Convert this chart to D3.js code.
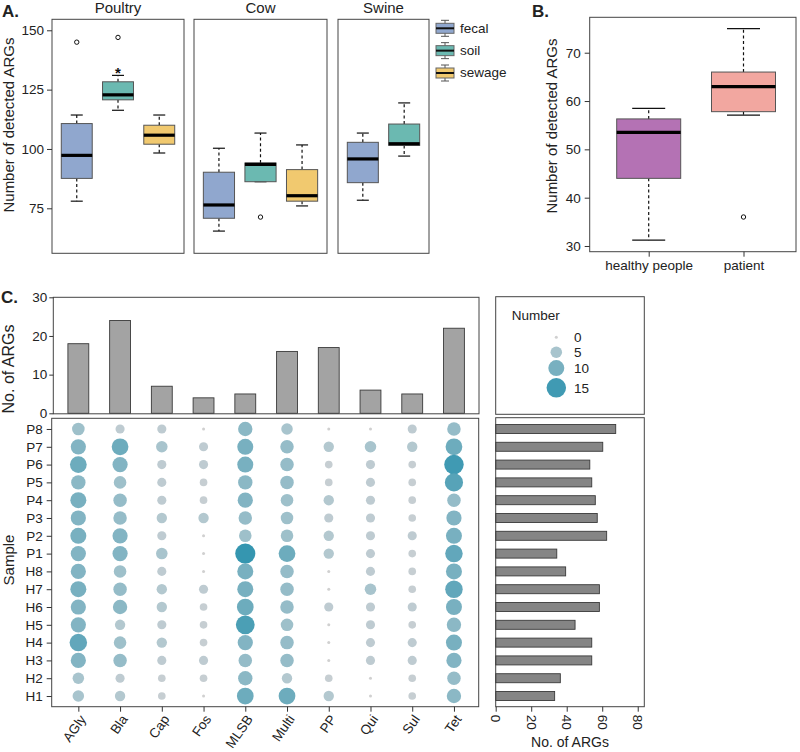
<!DOCTYPE html>
<html><head><meta charset="utf-8">
<script src="https://cdn.jsdelivr.net/npm/d3@7"></script>
<style>
body{margin:0;background:#fff;}
svg{display:block;font-family:"Liberation Sans",Arial,sans-serif;}
</style></head><body>
<svg id="chart" width="800" height="752"></svg>
<script>
// ---------------- DATA ----------------
// Panel A
const aFacets = ["Poultry", "Cow", "Swine"];
const aSources = ["fecal", "soil", "sewage"];
const aFacetSources = [["fecal", "soil", "sewage"], ["fecal", "soil", "sewage"], ["fecal", "soil"]];
// box stats: [lower whisker, Q1, median, Q3, upper whisker]
const poultryStats = [[78, 87.6, 97.3, 110.7, 114.3], [116.3, 120.7, 122.8, 128.3, 131], [98.3, 102, 105.8, 110, 114.3]];
const cowStats = [[65.4, 70.8, 76.4, 90.2, 100.3], [86.2, 86.2, 93.5, 94.1, 106.7], [76, 78, 80.3, 91.3, 101.7]];
const swineStats = [[78.4, 85.8, 95.8, 102.8, 106.7], [97, 101.5, 102.2, 110.5, 119.4]];
const poultryOutliers = [[145], [147], []];
const cowOutliers = [[], [71.3], []];
const swineOutliers = [[], []];
const poultryStars = [[], [134], []];
const aTicks = [75, 100, 125, 150];

// Panel B
const bGroups = ["healthy people", "patient"];
const bStats = [[31.2, 44, 53.5, 56.3, 58.5], [57.1, 57.8, 63, 66, 75]];
const bOutliers = [[], [36]];
const bTicks = [30, 40, 50, 60, 70];

// Panel C
const classes = ["AGly", "Bla", "Cap", "Fos", "MLSB", "Multi", "PP", "Qui", "Sul", "Tet"];
const classCounts = [18, 24, 7, 4, 5, 16, 17, 6, 5, 22];
const samples = ["P8", "P7", "P6", "P5", "P4", "P3", "P2", "P1", "H8", "H7", "H6", "H5", "H4", "H3", "H2", "H1"];
const sampleTotals = [67.6, 60.3, 53, 54.1, 56.1, 57.2, 62.5, 34.4, 39.4, 58.4, 58.4, 44.7, 54.1, 54.1, 36.4, 33.2];
const dotMatrix = [
  [6, 3, 3, 0, 8, 5, 0, 0, 3, 7],
  [9, 11, 5, 3, 10, 7, 4, 5, 4, 11],
  [11, 9, 3, 3, 10, 7, 2, 3, 2, 15],
  [8, 6, 3, 2, 8, 7, 2, 3, 2, 13],
  [10, 7, 3, 2, 9, 6, 4, 3, 2, 7],
  [9, 7, 4, 4, 7, 6, 3, 3, 2, 9],
  [10, 9, 3, 0, 6, 6, 4, 3, 3, 10],
  [9, 9, 5, 0, 16, 11, 4, 3, 2, 12],
  [9, 6, 3, 0, 10, 7, 0, 3, 2, 10],
  [10, 7, 4, 3, 10, 7, 0, 5, 2, 12],
  [9, 8, 4, 2, 11, 7, 3, 3, 3, 10],
  [9, 4, 3, 2, 14, 6, 0, 3, 2, 8],
  [12, 6, 4, 2, 9, 7, 0, 3, 3, 10],
  [9, 7, 3, 3, 7, 7, 0, 3, 3, 9],
  [5, 3, 2, 2, 8, 4, 2, 0, 2, 7],
  [5, 4, 2, 0, 11, 11, 4, 0, 2, 8]
];
const barTicks = [0, 10, 20, 30];
const totalTicks = [0, 20, 40, 60, 80];
const sizeLegendVals = [0, 5, 10, 15];

// ---------------- STYLE ----------------
const TXT = "#222";
const FRAME = "#444";
const sourceColor = d3.scaleOrdinal().domain(aSources).range(["#90A7CE", "#6BB9B1", "#F1C96F"]);
const groupColor = d3.scaleOrdinal().domain(bGroups).range(["#B472B4", "#F2A7A0"]);

const svg = d3.select("#chart");

function frame(x0, y0, x1, y1) {
  svg.append("rect").attr("x", x0).attr("y", y0).attr("width", x1 - x0).attr("height", y1 - y0)
    .attr("fill", "none").attr("stroke", FRAME).attr("stroke-width", 1);
}
function text(x, y, s, opts = {}) {
  const t = svg.append("text").attr("x", x).attr("y", y).text(s)
    .attr("fill", TXT).attr("font-size", opts.size || 13.5)
    .attr("text-anchor", opts.anchor || "start");
  if (opts.bold) t.attr("font-weight", "bold");
  if (opts.rot) t.attr("transform", `rotate(${opts.rot},${x},${y})`);
  if (opts.dy) t.attr("dy", opts.dy);
  return t;
}
function styleAxis(g) {
  g.select(".domain").remove();
  g.selectAll(".tick line").attr("stroke", "#333");
  g.selectAll(".tick text").attr("fill", TXT).attr("font-size", 13.5)
    .attr("font-family", '"Liberation Sans",Arial,sans-serif');
}
function drawBox(g, cx, w, capW, s, y, fill) {
  const dash = "3,2.6";
  g.append("line").attr("x1", cx).attr("x2", cx).attr("y1", y(s[3])).attr("y2", y(s[4]))
    .attr("stroke", "#111").attr("stroke-width", 1.2).attr("stroke-dasharray", dash);
  g.append("line").attr("x1", cx).attr("x2", cx).attr("y1", y(s[1])).attr("y2", y(s[0]))
    .attr("stroke", "#111").attr("stroke-width", 1.2).attr("stroke-dasharray", dash);
  [s[0], s[4]].forEach(v => g.append("line").attr("x1", cx - capW / 2).attr("x2", cx + capW / 2)
    .attr("y1", y(v)).attr("y2", y(v)).attr("stroke", "#111").attr("stroke-width", 1.2));
  g.append("rect").attr("x", cx - w / 2).attr("width", w).attr("y", y(s[3])).attr("height", y(s[1]) - y(s[3]))
    .attr("fill", fill).attr("stroke", "#555").attr("stroke-width", 1);
  g.append("line").attr("x1", cx - w / 2).attr("x2", cx + w / 2).attr("y1", y(s[2])).attr("y2", y(s[2]))
    .attr("stroke", "#000").attr("stroke-width", 3.2);
}
function drawOutliers(g, cx, vals, y) {
  vals.forEach(v => g.append("circle").attr("cx", cx).attr("cy", y(v)).attr("r", 2.2)
    .attr("fill", "none").attr("stroke", "#111").attr("stroke-width", 1));
}

// ---------------- PANEL A ----------------
const yA = d3.scaleLinear().domain([56.04, 154.63]).range([253.3, 19.3]);
const facetBounds = [[52, 184], [194, 327], [338, 429]];
const aStats = [poultryStats, cowStats, swineStats];
const aOut = [poultryOutliers, cowOutliers, swineOutliers];
const aStars = [poultryStars, [[], [], []], [[], []]];
const gA = svg.append("g");
aFacets.forEach((f, i) => {
  const [x0, x1] = facetBounds[i];
  const x = d3.scalePoint().domain(aFacetSources[i]).range([x0, x1]).padding(0.6);
  frame(x0, 19.3, x1, 253.3);
  text((x0 + x1) / 2, 13, f, { size: 15, anchor: "middle" });
  aFacetSources[i].forEach((src, j) => {
    const cx = x(src);
    drawBox(gA, cx, x.step() * 0.75, 12, aStats[i][j], yA, sourceColor(src));
    drawOutliers(gA, cx, aOut[i][j], yA);
    aStars[i][j].forEach(v => gA.append("text").attr("x", cx).attr("y", yA(v)).attr("dy", "0.62em")
      .attr("text-anchor", "middle").attr("font-size", 15).attr("font-weight", "bold").attr("fill", "#111").text("*"));
  });
});
svg.append("g").attr("transform", "translate(52,0)")
  .call(d3.axisLeft(yA).tickValues(aTicks).tickSize(5).tickPadding(3)).call(styleAxis);
text(13.5, 125, "Number of detected ARGs", { size: 15, anchor: "middle", rot: -90 });
text(2, 16.5, "A.", { size: 17, bold: true });

// legend A
const legY = d3.scalePoint().domain(aSources).range([28.3, 73]);
aSources.forEach(src => {
  const cy = legY(src), cx = 445;
  const g = svg.append("g");
  g.append("line").attr("x1", cx).attr("x2", cx).attr("y1", cy - 8).attr("y2", cy + 8).attr("stroke", "#555");
  [cy - 8, cy + 8].forEach(v => g.append("line").attr("x1", cx - 4).attr("x2", cx + 4).attr("y1", v).attr("y2", v).attr("stroke", "#555"));
  g.append("rect").attr("x", 436).attr("width", 18).attr("y", cy - 5).attr("height", 10)
    .attr("fill", sourceColor(src)).attr("stroke", "#666");
  g.append("line").attr("x1", 436).attr("x2", 454).attr("y1", cy).attr("y2", cy).attr("stroke", "#111").attr("stroke-width", 2);
  text(460, cy, src, { size: 13.5, dy: "0.32em" });
});

// ---------------- PANEL B ----------------
const yB = d3.scaleLinear().domain([28.82, 77.33]).range([251.7, 17.3]);
const xB = d3.scalePoint().domain(bGroups).range([648.7, 743.5]);
frame(589.7, 17.3, 796, 251.7);
const gB = svg.append("g");
bGroups.forEach((grp, i) => {
  drawBox(gB, xB(grp), 64, 33, bStats[i], yB, groupColor(grp));
  drawOutliers(gB, xB(grp), bOutliers[i], yB);
});
svg.append("g").attr("transform", "translate(589.7,0)")
  .call(d3.axisLeft(yB).tickValues(bTicks).tickSize(5).tickPadding(4)).call(styleAxis);
svg.append("g").attr("transform", "translate(0,251.7)")
  .call(d3.axisBottom(xB).tickSize(5).tickPadding(4)).call(styleAxis);
text(557, 126, "Number of detected ARGs", { size: 15, anchor: "middle", rot: -90 });
text(532, 16.5, "B.", { size: 17, bold: true });

// ---------------- PANEL C ----------------
const xC = d3.scalePoint().domain(classes).range([53.3, 479]).padding(0.6);
const yBar = d3.scaleLinear().domain([0, 30]).range([413.3, 297.3]);
svg.append("g").selectAll("rect").data(classes).join("rect")
  .attr("x", d => xC(d) - xC.step() * 0.25).attr("width", xC.step() * 0.5)
  .attr("y", (d, i) => yBar(classCounts[i])).attr("height", (d, i) => yBar(0) - yBar(classCounts[i]))
  .attr("fill", "#A3A3A3").attr("stroke", "#3a3a3a").attr("stroke-width", 0.9);
frame(53.3, 297.3, 479, 413.8);
svg.append("g").attr("transform", "translate(53.3,0)")
  .call(d3.axisLeft(yBar).tickValues(barTicks).tickSize(4).tickPadding(2)).call(styleAxis);
text(13.5, 369, "No. of ARGs", { size: 16, anchor: "middle", rot: -90 });
text(1, 303, "C.", { size: 17, bold: true });

// dot panel
const yDot = d3.scalePoint().domain(samples).range([418.3, 706.7]).padding(0.6);
const areaScale = d3.scaleLinear().domain([0, 15]).range([2.25, 94.9]);
const rOf = n => Math.sqrt(areaScale(n));
const colorOf = d3.scaleLinear().domain([0, 2.5, 5, 10, 16]).range(["#D0D0D0", "#C4CDD2", "#A8C4CD", "#78B0C0", "#3596B0"]).clamp(true);
const cells = [];
samples.forEach((s, i) => classes.forEach((c, j) => cells.push({ s, c, n: dotMatrix[i][j] })));
svg.append("g").selectAll("circle").data(cells).join("circle")
  .attr("cx", d => xC(d.c)).attr("cy", d => yDot(d.s))
  .attr("r", d => rOf(d.n)).attr("fill", d => colorOf(d.n));
frame(51.7, 418.3, 478.7, 706.7);
svg.append("g").attr("transform", "translate(51.7,0)")
  .call(d3.axisLeft(yDot).tickSize(5).tickPadding(4)).call(styleAxis);
const gx = svg.append("g").attr("transform", "translate(0,706.7)")
  .call(d3.axisBottom(xC).tickSize(5)).call(styleAxis);
gx.selectAll(".tick text").attr("x", 0).attr("y", 0).attr("dy", "0.7em")
  .attr("text-anchor", "end").attr("transform", "translate(0,7) rotate(-55)");
text(14, 560, "Sample", { size: 15, anchor: "middle", rot: -90 });

// size legend
frame(495.7, 296.7, 644.3, 414.3);
text(511.7, 320, "Number", { size: 13.5 });
let ly = 337.3;
sizeLegendVals.forEach((v, i) => {
  if (i > 0) ly += Math.max(15, rOf(sizeLegendVals[i - 1]) + rOf(v) + 2);
  svg.append("circle").attr("cx", 556.3).attr("cy", ly).attr("r", rOf(v)).attr("fill", colorOf(v));
  text(574, ly, String(v), { size: 13.5, dy: "0.35em" });
});

// right total bars
const xR = d3.scaleLinear().domain([0, 83.7]).range([495.7, 644.3]);
svg.append("g").selectAll("rect").data(samples).join("rect")
  .attr("x", xR(0)).attr("width", (d, i) => xR(sampleTotals[i]) - xR(0))
  .attr("y", d => yDot(d) - 4.5).attr("height", 9)
  .attr("fill", "#858585").attr("stroke", "#3a3a3a").attr("stroke-width", 0.9);
frame(495.7, 417.7, 644.3, 706.7);
const gr = svg.append("g").attr("transform", "translate(0,706.7)")
  .call(d3.axisBottom(xR).tickValues(totalTicks).tickSize(5)).call(styleAxis);
gr.selectAll(".tick text").attr("x", 8).attr("y", 0).attr("dy", "0.35em")
  .attr("text-anchor", "start").attr("transform", "rotate(90)");
text(570, 747, "No. of ARGs", { size: 14, anchor: "middle" });
</script>
</body></html>
